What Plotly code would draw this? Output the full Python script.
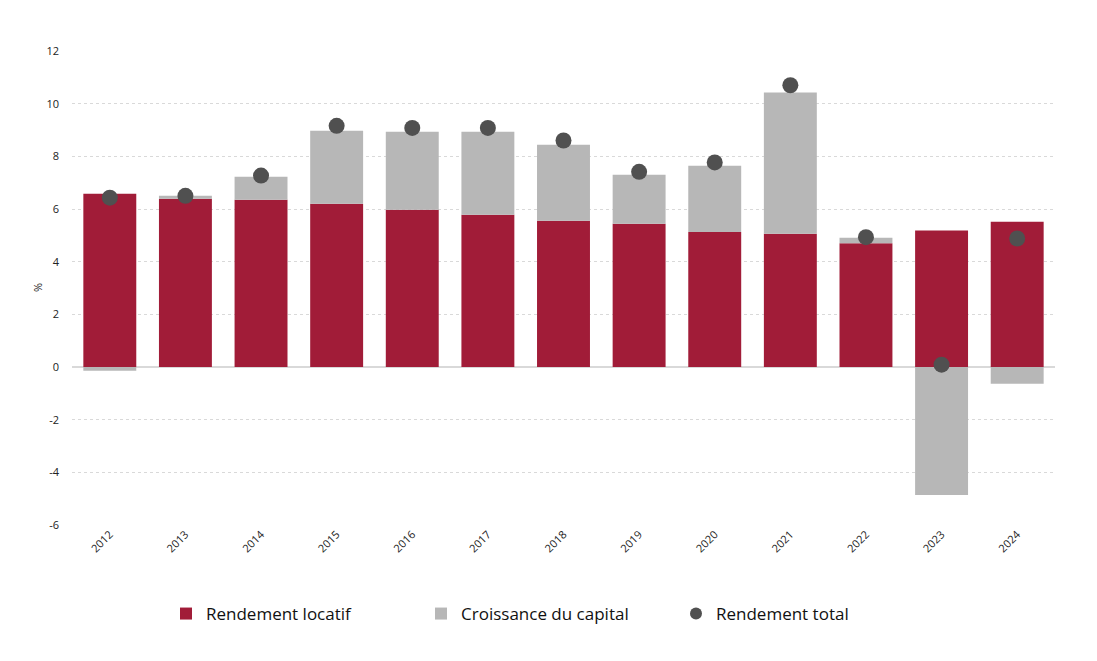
import plotly.graph_objects as go

years = ["2012", "2013", "2014", "2015", "2016", "2017", "2018", "2019", "2020", "2021", "2022", "2023", "2024"]
rendement_locatif = [6.58, 6.39, 6.35, 6.20, 5.97, 5.78, 5.55, 5.44, 5.13, 5.06, 4.70, 5.18, 5.52]
croissance_capital = [-0.14, 0.11, 0.87, 2.77, 2.96, 3.15, 2.89, 1.86, 2.51, 5.36, 0.21, -4.86, -0.64]
rendement_total = [6.43, 6.50, 7.27, 9.16, 9.08, 9.08, 8.60, 7.41, 7.77, 10.70, 4.93, 0.09, 4.88]
y_ticks = [-6, -4, -2, 0, 2, 4, 6, 8, 10, 12]

font_family = "Open Sans, DejaVu Sans, sans-serif"

fig = go.Figure()
fig.add_trace(go.Bar(x=years, y=rendement_locatif, name="Rendement locatif",
                     marker=dict(color="#A11C38", line=dict(width=0))))
fig.add_trace(go.Bar(x=years, y=croissance_capital, name="Croissance du capital",
                     marker=dict(color="#B7B7B7", line=dict(width=0))))
fig.add_trace(go.Scatter(x=years, y=rendement_total, name="Rendement total", mode="markers",
                         marker=dict(color="#505050", size=16)))

fig.update_layout(
    width=1097, height=661,
    margin=dict(l=72, r=42, t=51, b=136),
    paper_bgcolor="white", plot_bgcolor="white",
    barmode="relative", bargap=0.3,
    font=dict(family=font_family, color="#222222"),
    showlegend=True,
    legend=dict(orientation="h", xref="container", yref="container",
                x=166 / 1097, xanchor="left", y=1 - 614 / 661, yanchor="middle",
                font=dict(size=17, color="#111111"), entrywidth=210, traceorder="normal",
                itemsizing="constant"),
    annotations=[dict(text="%", x=(37 - 72) / (1097 - 72 - 42), y=0.5, xref="paper", yref="paper",
                      showarrow=False, textangle=-90, font=dict(size=11, color="#222222"),
                      xanchor="center", yanchor="middle")],
)
fig.update_xaxes(type="category", range=[-0.5, len(years) - 0.5], tickangle=-45,
                 tickfont=dict(size=11, color="#222222"),
                 showgrid=False, showline=False, ticks="", ticklen=0, automargin=False)
fig.update_yaxes(range=[-6, 12], tickvals=y_ticks, ticktext=[str(v) for v in y_ticks],
                 tickfont=dict(size=11, color="#222222"), automargin=False,
                 showgrid=True, gridcolor="#D9D9D9", griddash="dot", gridwidth=1,
                 zeroline=True, zerolinecolor="#D9D9D9", zerolinewidth=2,
                 ticks="", showline=False, ticklabelstandoff=12)

fig.write_html("out.html")
